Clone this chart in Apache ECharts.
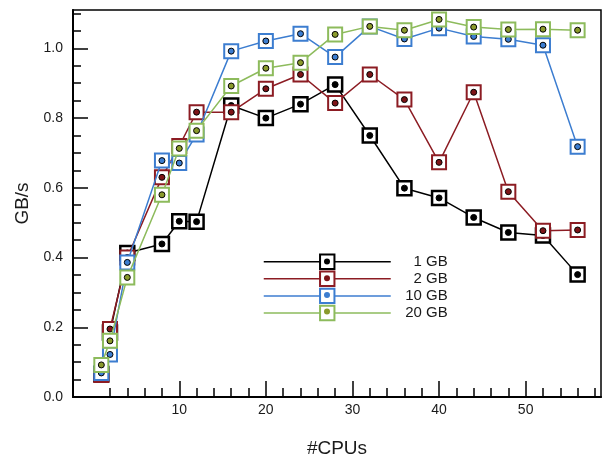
<!DOCTYPE html>
<html><head><meta charset="utf-8">
<script src="https://cdn.jsdelivr.net/npm/echarts@6/dist/echarts.min.js"></script>
<style>html,body{margin:0;padding:0;background:#fff}#c{width:603px;height:455px}</style>
</head><body><div id="c"></div>
<script>
// ---- data ----
const cpus = [1, 2, 4, 8, 10, 12, 16, 20, 24, 28, 32, 36, 40, 44, 48, 52, 56];
const gb1  = [0.065, 0.185, 0.413, 0.439, 0.504, 0.503, 0.836, 0.800, 0.840, 0.896, 0.750, 0.599, 0.571, 0.515, 0.472, 0.463, 0.351];
const gb2  = [0.063, 0.195, 0.400, 0.630, 0.720, 0.817, 0.817, 0.884, 0.925, 0.843, 0.925, 0.853, 0.673, 0.874, 0.589, 0.477, 0.479];
const gb10 = [0.069, 0.122, 0.386, 0.678, 0.671, 0.753, 0.992, 1.021, 1.042, 0.975, 1.063, 1.027, 1.058, 1.034, 1.026, 1.009, 0.718];
const gb20 = [0.092, 0.161, 0.343, 0.580, 0.713, 0.764, 0.892, 0.943, 0.959, 1.040, 1.063, 1.052, 1.083, 1.061, 1.054, 1.055, 1.052];
const seriesNames = ['1 GB', '2 GB', '10 GB', '20 GB'];
const xMajorTicks = [10, 20, 30, 40, 50];
const xMinorTicks = [2, 4, 6, 8, 12, 14, 16, 18, 22, 24, 26, 28, 32, 34, 36, 38, 42, 44, 46, 48, 52, 54, 56, 58];
const yMajorTicks = [0, 0.2, 0.4, 0.6, 0.8, 1.0];
const yMinorTicks = [0.05, 0.1, 0.15, 0.25, 0.3, 0.35, 0.45, 0.5, 0.55, 0.65, 0.7, 0.75, 0.85, 0.9, 0.95, 1.05, 1.1];

// ---- styling ----
const values = [gb1, gb2, gb10, gb20];
const lineColors = ['#000000', '#8c1c23', '#3c7dd0', '#8dbb5c'];
const dotColors  = ['#000000', '#7d1418', '#3c7dd0', '#8a9a2c'];
const borderW = [2.5, 2, 2, 2];
const FONT = '"Liberation Sans", Arial, sans-serif';
const TXT = '#1a1a1a';
const X_MIN = -2.27, X_MAX = 58.7, Y_MIN = 0, Y_MAX = 1.11;

const series = [];
values.forEach((vals, i) => {
  const pts = cpus.map((x, j) => [x, vals[j]]);
  series.push({
    type: 'line', name: seriesNames[i], data: pts, z: 2 + 2 * i,
    symbol: 'rect', symbolSize: 14,
    lineStyle: { color: lineColors[i], width: 1.5 },
    itemStyle: { color: '#ffffff', borderColor: lineColors[i], borderWidth: borderW[i] },
    emphasis: { disabled: true }, animation: false
  });
  series.push({
    type: 'scatter', name: seriesNames[i] + ' ', data: pts, z: 3 + 2 * i,
    symbol: 'circle', symbolSize: 6,
    itemStyle: { color: dotColors[i], borderColor: '#000', borderWidth: 1, opacity: 1 },
    emphasis: { disabled: true }, animation: false
  });
});

const axisText = { fontSize: 14, color: TXT, fontFamily: FONT };

const option = {
  animation: false,
  backgroundColor: '#ffffff',
  grid: { left: 73, right: 2, top: 10, bottom: 58, show: true, borderColor: '#000', borderWidth: 1.5,
          backgroundColor: 'transparent', outerBoundsMode: 'none' },
  xAxis: [
    { type: 'value', min: X_MIN, max: X_MAX, position: 'bottom',
      axisLine: { onZero: false, lineStyle: { color: '#000', width: 2 } },
      axisTick: { inside: true, length: 16, customValues: xMajorTicks, lineStyle: { color: '#000', width: 1.5 } },
      axisLabel: Object.assign({ customValues: xMajorTicks, margin: 6 }, axisText),
      splitLine: { show: false },
      name: '#CPUs', nameLocation: 'middle', nameGap: 42,
      nameTextStyle: { fontSize: 19, color: TXT, fontFamily: FONT } },
    { type: 'value', min: X_MIN, max: X_MAX, position: 'bottom',
      axisLine: { show: false, onZero: false },
      axisTick: { inside: true, length: 9, customValues: xMinorTicks, lineStyle: { color: '#000', width: 1.5 } },
      axisLabel: { show: false }, splitLine: { show: false } }
  ],
  yAxis: [
    { type: 'value', min: Y_MIN, max: Y_MAX, position: 'left',
      axisLine: { onZero: false, lineStyle: { color: '#000', width: 2 } },
      axisTick: { inside: true, length: 15, customValues: yMajorTicks, lineStyle: { color: '#000', width: 1.5 } },
      axisLabel: Object.assign({ customValues: yMajorTicks, margin: 10, formatter: v => v.toFixed(1) }, axisText),
      splitLine: { show: false },
      name: 'GB/s', nameLocation: 'middle', nameGap: 38, nameRotate: 90,
      nameTextStyle: { fontSize: 19, color: TXT, fontFamily: FONT } },
    { type: 'value', min: Y_MIN, max: Y_MAX, position: 'left',
      axisLine: { show: false, onZero: false },
      axisTick: { inside: true, length: 8, customValues: yMinorTicks, lineStyle: { color: '#000', width: 1.5 } },
      axisLabel: { show: false }, splitLine: { show: false } }
  ],
  legend: [
    { data: seriesNames, orient: 'vertical', left: 263, top: 253.5, padding: 0,
      itemWidth: 127, itemHeight: 18, itemGap: 0.7, selectedMode: false,
      itemStyle: { borderWidth: 2 }, lineStyle: { width: 1.5 },
      formatter: '{a|{name}}',
      textStyle: { fontSize: 15, color: TXT, fontFamily: FONT,
        rich: { a: { width: 52, align: 'right', fontSize: 15, color: TXT, fontFamily: FONT } } } },
    { data: seriesNames.map(n => n + ' '), orient: 'vertical', left: 324, top: 258.5, padding: 0,
      itemWidth: 6, itemHeight: 6, itemGap: 10.7, selectedMode: false,
      itemStyle: { borderWidth: 0 },
      formatter: () => '',
      textStyle: { fontSize: 1 } }
  ],
  series: series
};

const chart = echarts.init(document.getElementById('c'), null, { renderer: 'canvas' });
chart.setOption(option);
</script>
</body></html>
